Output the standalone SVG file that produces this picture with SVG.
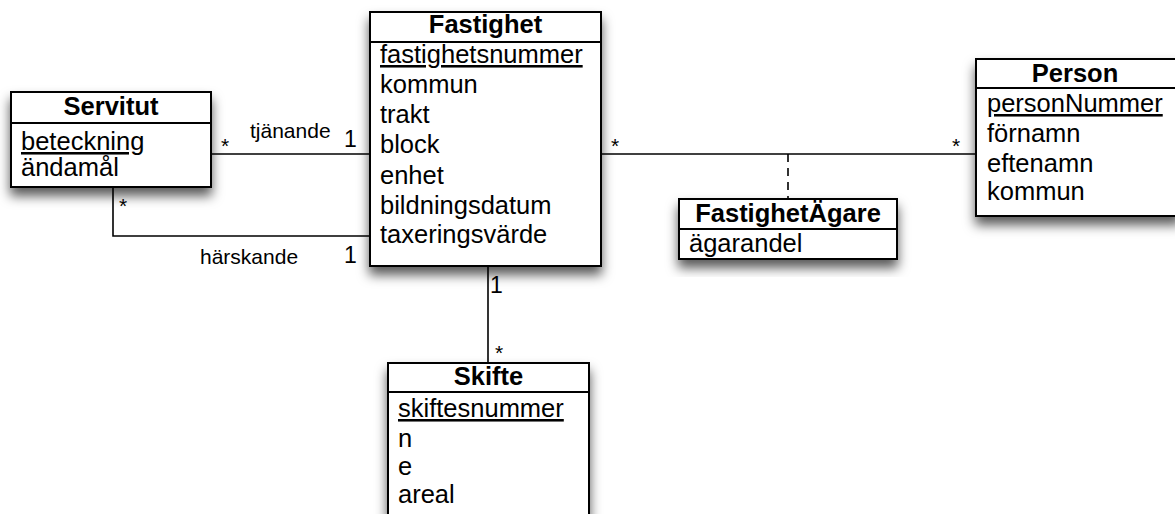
<svg xmlns="http://www.w3.org/2000/svg" width="1175" height="514" viewBox="0 0 1175 514">
<defs>
<filter id="sh" x="-20%" y="-20%" width="140%" height="150%">
<feDropShadow dx="0" dy="8" stdDeviation="6" flood-color="#000" flood-opacity="0.65"/>
</filter>
</defs>
<style>
.box{fill:#fff;stroke:#000;stroke-width:2}
.sep{stroke:#000;stroke-width:2}
.t{font-family:"Liberation Sans",Arial,sans-serif;font-size:25.5px;font-weight:bold;text-anchor:middle;fill:#000}
.a{font-family:"Liberation Sans",Arial,sans-serif;font-size:25.5px;fill:#000}
.u{text-decoration:underline}
.ln{stroke:#000;stroke-width:1.6;fill:none}
.dash{stroke:#000;stroke-width:1.6;fill:none;stroke-dasharray:8,6}
.lb{font-family:"Liberation Sans",Arial,sans-serif;font-size:21px;fill:#000}
.m{font-family:"Liberation Sans",Arial,sans-serif;font-size:23px;fill:#000}
.s{font-family:"Liberation Sans",Arial,sans-serif;font-size:21px;fill:#000}
</style>
<g id="connectors">
<polyline class="ln" points="211,154 370,154"/>
<polyline class="ln" points="113,187 113,236 370,236"/>
<polyline class="ln" points="601,154 976,154"/>
<polyline class="dash" points="788,154 788,199"/>
<polyline class="ln" points="488,266 488,363"/>
<text class="s" x="221" y="153">*</text>
<text class="lb" x="250" y="138">tjänande</text>
<text class="m" x="344" y="147">1</text>
<text class="s" x="119" y="213">*</text>
<text class="lb" x="200" y="264">härskande</text>
<text class="m" x="344" y="263">1</text>
<text class="s" x="611" y="153">*</text>
<text class="s" x="952" y="153">*</text>
<text class="m" x="490" y="293">1</text>
<text class="s" x="495" y="360">*</text>
</g>
<g id="servitut">
<rect class="box" x="11" y="92" width="200" height="95" filter="url(#sh)"/>
<line class="sep" x1="11" y1="123" x2="211" y2="123"/>
<text class="t" x="111" y="115">Servitut</text>
<text class="a u" x="21" y="150">beteckning</text>
<text class="a" x="21" y="176">ändamål</text>
</g>
<g id="fastighet">
<rect class="box" x="370" y="12" width="231" height="254" filter="url(#sh)"/>
<line class="sep" x1="370" y1="42" x2="601" y2="42"/>
<text class="t" x="485.5" y="33">Fastighet</text>
<text class="a u" x="380" y="63">fastighetsnummer</text>
<text class="a" x="380" y="93">kommun</text>
<text class="a" x="380" y="123">trakt</text>
<text class="a" x="380" y="153">block</text>
<text class="a" x="380" y="184">enhet</text>
<text class="a" x="380" y="214">bildningsdatum</text>
<text class="a" x="380" y="243">taxeringsvärde</text>
</g>
<g id="person">
<rect class="box" x="976" y="59" width="204" height="157" filter="url(#sh)"/>
<line class="sep" x1="976" y1="88" x2="1180" y2="88"/>
<text class="t" x="1075" y="82">Person</text>
<text class="a u" x="987" y="112">personNummer</text>
<text class="a" x="987" y="142">förnamn</text>
<text class="a" x="987" y="172">eftenamn</text>
<text class="a" x="987" y="200">kommun</text>
</g>
<g id="fastighetagare">
<rect class="box" x="679" y="199" width="218" height="60" filter="url(#sh)"/>
<line class="sep" x1="679" y1="229" x2="897" y2="229"/>
<text class="t" x="788" y="222">FastighetÄgare</text>
<text class="a" x="689" y="252">ägarandel</text>
</g>
<g id="skifte">
<rect class="box" x="388" y="363" width="201" height="170" filter="url(#sh)"/>
<line class="sep" x1="388" y1="392" x2="589" y2="392"/>
<text class="t" x="488.5" y="385">Skifte</text>
<text class="a u" x="398" y="417">skiftesnummer</text>
<text class="a" x="398" y="447">n</text>
<text class="a" x="398" y="475">e</text>
<text class="a" x="398" y="503">areal</text>
</g>
</svg>
